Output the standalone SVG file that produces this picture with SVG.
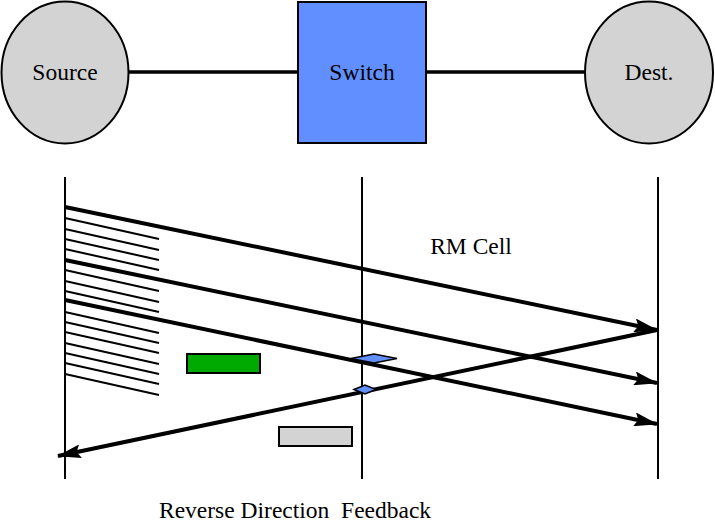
<svg xmlns="http://www.w3.org/2000/svg" width="715" height="523" viewBox="0 0 715 523">
<defs>
<marker id="ah" markerWidth="24" markerHeight="14" refX="23" refY="7" orient="auto" markerUnits="userSpaceOnUse">
<path d="M0,0 L24,7 L0,14 L4,7 Z" fill="#000"/>
</marker>
<style>
text{font-family:'Liberation Serif','Times New Roman',serif;font-size:23.5px;fill:#000;white-space:pre}
.node{stroke:#000;stroke-width:2}
.thick{stroke:#000;stroke-width:4;fill:none}
.link{stroke:#000;stroke-width:3.5;fill:none}
.thin{stroke:#000;stroke-width:2;fill:none}
.axis{stroke:#000;stroke-width:2;fill:none}
</style>
</defs>
<rect width="715" height="523" fill="#fff"/>
<g id="connectors">
<line class="link" x1="129" y1="72" x2="298" y2="72"/>
<line class="link" x1="426" y1="72" x2="596" y2="72"/>
</g>
<g id="source">
<ellipse class="node" cx="65" cy="72.5" rx="63.5" ry="71" fill="#d3d3d3"/>
<text x="65" y="80" text-anchor="middle">Source</text>
</g>
<g id="switch">
<rect class="node" x="298" y="2" width="128" height="141" fill="#618fff"/>
<text x="362" y="80" text-anchor="middle">Switch</text>
</g>
<g id="dest">
<ellipse class="node" cx="649" cy="72.5" rx="64" ry="71" fill="#d3d3d3"/>
<text x="649" y="80" text-anchor="middle">Dest.</text>
</g>
<g id="timelines">
<line class="axis" x1="65" y1="177" x2="65" y2="479"/>
<line class="axis" x1="362" y1="177" x2="362" y2="479"/>
<line class="axis" x1="658" y1="177" x2="658" y2="479"/>
</g>
<g id="hatch">
<line class="thin" x1="65" y1="218" x2="159" y2="239"/>
<line class="thin" x1="65" y1="229" x2="159" y2="250"/>
<line class="thin" x1="65" y1="239" x2="159" y2="260"/>
<line class="thin" x1="65" y1="249" x2="159" y2="270"/>
<line class="thin" x1="65" y1="270" x2="159" y2="291"/>
<line class="thin" x1="65" y1="281" x2="159" y2="302"/>
<line class="thin" x1="65" y1="291" x2="159" y2="312"/>
<line class="thin" x1="65" y1="312" x2="159" y2="333"/>
<line class="thin" x1="65" y1="322" x2="159" y2="343"/>
<line class="thin" x1="65" y1="332" x2="159" y2="353"/>
<line class="thin" x1="65" y1="343" x2="159" y2="364"/>
<line class="thin" x1="65" y1="353" x2="159" y2="374"/>
<line class="thin" x1="65" y1="363" x2="159" y2="384"/>
<line class="thin" x1="65" y1="374" x2="159" y2="395"/>
</g>
<g id="cells">
<line class="thick" x1="65" y1="207" x2="657" y2="330" marker-end="url(#ah)"/>
<line class="thick" x1="65" y1="260" x2="657" y2="383" marker-end="url(#ah)"/>
<line class="thick" x1="65" y1="300" x2="657" y2="424" marker-end="url(#ah)"/>
<line class="thick" x1="657" y1="330" x2="58" y2="456" marker-end="url(#ah)"/>
</g>
<g id="markers">
<rect x="187" y="354" width="73" height="19" fill="#00aa00" stroke="#000" stroke-width="2"/>
<rect x="279" y="427" width="73" height="19" fill="#d3d3d3" stroke="#000" stroke-width="2"/>
<path d="M351,358.5 L374,354 L397,358.5 L374,363 Z" fill="#618fff" stroke="#000" stroke-width="1.5"/>
<path d="M354,389.5 L365,385 L376,389.5 L365,394 Z" fill="#618fff" stroke="#000" stroke-width="1.5"/>
</g>
<g id="labels">
<text x="471" y="254" text-anchor="middle">RM Cell</text>
<text x="159" y="518" xml:space="preserve">Reverse Direction  Feedback</text>
</g>
</svg>
